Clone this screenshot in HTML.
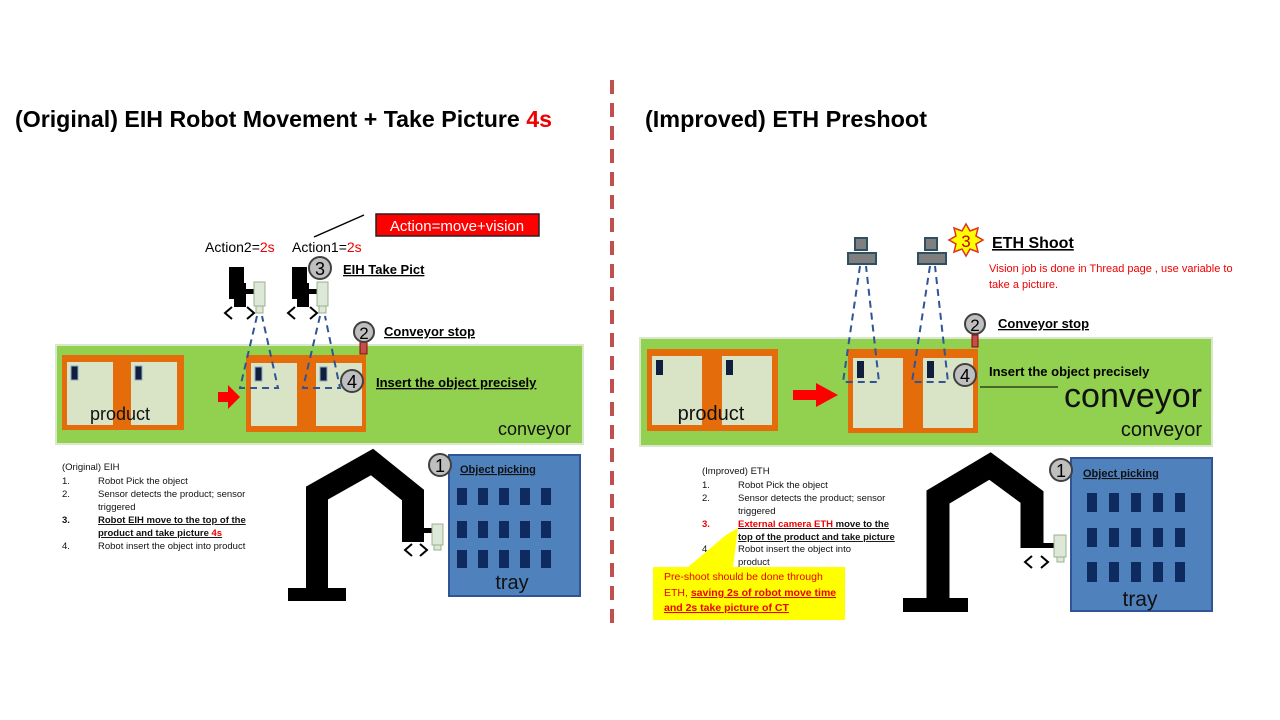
<!DOCTYPE html>
<html><head><meta charset="utf-8"><style>
html,body{margin:0;padding:0;background:#fff}
svg{display:block;font-family:"Liberation Sans",sans-serif}
</style></head><body>
<svg width="1280" height="720" viewBox="0 0 1280 720" xmlns="http://www.w3.org/2000/svg">
<defs>
<g id="cell">
 <rect width="46" height="63" fill="#d9e4c6"/>
 <rect x="4" y="4" width="7" height="14" fill="#0f1f3d" stroke="#8ea9c8" stroke-width="1"/>
</g>
<g id="grip">
 <rect x="0" y="0" width="15" height="32" fill="#000"/>
 <rect x="5" y="16" width="12" height="24" fill="#000"/>
 <rect x="16" y="22" width="9" height="5" fill="#000"/>
 <rect x="25" y="15" width="11" height="24" fill="#dde8d8" stroke="#9bb08e"/>
 <rect x="27" y="39" width="7" height="7" fill="#dde8d8" stroke="#9bb08e"/>
 <polyline points="3,40 -4,46 3,52" fill="none" stroke="#000" stroke-width="2"/>
 <polyline points="18,40 25,46 18,52" fill="none" stroke="#000" stroke-width="2"/>
</g>
<g id="cam">
 <rect x="7" y="0" width="12" height="12" fill="#7f7f7f" stroke="#2f5060" stroke-width="2"/>
 <rect x="0" y="15" width="28" height="11" fill="#7f7f7f" stroke="#2f5060" stroke-width="2"/>
</g>
</defs>

<line x1="612" y1="80" x2="612" y2="632" stroke="#c0504d" stroke-width="4" stroke-dasharray="14,9"/>

<text x="15" y="127" font-size="23" font-weight="bold" textLength="537" lengthAdjust="spacingAndGlyphs">(Original) EIH Robot Movement + Take Picture <tspan fill="#e00">4s</tspan></text>
<text x="645" y="127" font-size="23" font-weight="bold" textLength="282" lengthAdjust="spacingAndGlyphs">(Improved) ETH Preshoot</text>

<!-- ===== LEFT ===== -->
<rect x="56" y="345" width="527" height="99" fill="#92d050" stroke="#d9e7cc" stroke-width="2"/>
<rect x="62" y="355" width="122" height="75" fill="#e46c0a"/>
<use href="#cell" x="67" y="362"/><use href="#cell" x="131" y="362"/>
<text x="120" y="420" font-size="18" text-anchor="middle" fill="#111">product</text>
<rect x="246" y="355" width="120" height="77" fill="#e46c0a"/>
<use href="#cell" x="251" y="363"/><use href="#cell" x="316" y="363"/>
<polygon points="218,392 228,392 228,385 240,397 228,409 228,402 218,402" fill="#f00"/>
<text x="571" y="435" font-size="18" text-anchor="end" fill="#111">conveyor</text>

<rect x="360" y="341" width="7" height="13" fill="#c0504d" stroke="#900"/>
<circle cx="364" cy="332" r="10" fill="#bfbfbf" stroke="#404040" stroke-width="2"/>
<text x="364" y="339" font-size="17" text-anchor="middle">2</text>
<text x="384" y="336" font-size="13" font-weight="bold" text-decoration="underline">Conveyor stop</text>

<g fill="none" stroke="#2f5597" stroke-width="2" stroke-dasharray="7,5">
<polyline points="257,316 240,388 278,388 262,316"/>
<polyline points="320,316 303,388 340,388 325,316"/>
</g>
<use href="#grip" x="229" y="267"/>
<use href="#grip" x="292" y="267"/>

<circle cx="352" cy="381" r="11" fill="#bfbfbf" stroke="#404040" stroke-width="2"/>
<text x="352" y="388" font-size="18" text-anchor="middle">4</text>
<text x="376" y="387" font-size="13" font-weight="bold" text-decoration="underline">Insert the object precisely</text>

<circle cx="320" cy="268" r="11" fill="#bfbfbf" stroke="#404040" stroke-width="2"/>
<text x="320" y="275" font-size="18" text-anchor="middle">3</text>
<text x="343" y="274" font-size="13" font-weight="bold" text-decoration="underline">EIH Take Pict</text>

<text x="205" y="252" font-size="14">Action2=<tspan fill="#e00">2s</tspan></text>
<text x="292" y="252" font-size="14">Action1=<tspan fill="#e00">2s</tspan></text>
<line x1="314" y1="237" x2="364" y2="215" stroke="#000" stroke-width="1.5"/>
<rect x="376" y="214" width="163" height="22" fill="#f00" stroke="#222" stroke-width="1.5"/>
<text x="457" y="231" font-size="15" fill="#fff" text-anchor="middle">Action=move+vision</text>

<rect x="288" y="588" width="58" height="13" fill="#000"/>
<polyline points="317,592 317,493 372,462 413,495 413,542" fill="none" stroke="#000" stroke-width="22" stroke-linejoin="miter"/>
<rect x="413" y="528" width="20" height="5" fill="#000"/>
<rect x="432" y="524" width="11" height="21" fill="#dde8d8" stroke="#9bb08e"/>
<rect x="434" y="545" width="7" height="5" fill="#dde8d8" stroke="#9bb08e"/>
<polyline points="412,544 405,550 412,556" fill="none" stroke="#000" stroke-width="2"/>
<polyline points="420,544 427,550 420,556" fill="none" stroke="#000" stroke-width="2"/>

<rect x="449" y="455" width="131" height="141" fill="#4f81bd" stroke="#2f5597" stroke-width="2"/>
<g fill="#0f2a5e">
<rect x="457" y="488" width="10" height="17"/><rect x="478" y="488" width="10" height="17"/><rect x="499" y="488" width="10" height="17"/><rect x="520" y="488" width="10" height="17"/><rect x="541" y="488" width="10" height="17"/>
<rect x="457" y="521" width="10" height="17"/><rect x="478" y="521" width="10" height="17"/><rect x="499" y="521" width="10" height="17"/><rect x="520" y="521" width="10" height="17"/><rect x="541" y="521" width="10" height="17"/>
<rect x="457" y="550" width="10" height="18"/><rect x="478" y="550" width="10" height="18"/><rect x="499" y="550" width="10" height="18"/><rect x="520" y="550" width="10" height="18"/><rect x="541" y="550" width="10" height="18"/>
</g>
<text x="512" y="589" font-size="20" text-anchor="middle" fill="#111">tray</text>
<circle cx="440" cy="465" r="11" fill="#bfbfbf" stroke="#404040" stroke-width="2"/>
<text x="440" y="472" font-size="18" text-anchor="middle">1</text>
<text x="460" y="473" font-size="11" font-weight="bold" text-decoration="underline" fill="#111">Object picking</text>

<g font-size="9.5" fill="#111">
<text x="62" y="470">(Original) EIH</text>
<text x="62" y="484">1.</text><text x="98" y="484">Robot Pick the object</text>
<text x="62" y="497">2.</text><text x="98" y="497">Sensor detects the product; sensor</text>
<text x="98" y="510">triggered</text>
<text x="62" y="523" font-weight="bold">3.</text><text x="98" y="523" font-weight="bold" text-decoration="underline">Robot EIH move to the top of the</text>
<text x="98" y="536" font-weight="bold" text-decoration="underline">product and take picture <tspan fill="#e00">4s</tspan></text>
<text x="62" y="549">4.</text><text x="98" y="549">Robot insert the object into product</text>
</g>

<!-- ===== RIGHT ===== -->
<rect x="640" y="338" width="572" height="108" fill="#92d050" stroke="#d9e7cc" stroke-width="2"/>
<rect x="647" y="349" width="131" height="82" fill="#e46c0a"/>
<rect x="652" y="356" width="50" height="69" fill="#d9e4c6"/><rect x="656" y="360" width="7" height="15" fill="#0f1f3d"/>
<rect x="722" y="356" width="50" height="69" fill="#d9e4c6"/><rect x="726" y="360" width="7" height="15" fill="#0f1f3d"/>
<text x="711" y="420" font-size="20" text-anchor="middle" fill="#111">product</text>
<rect x="848" y="349" width="130" height="84" fill="#e46c0a"/>
<rect x="853" y="358" width="50" height="70" fill="#d9e4c6"/><rect x="857" y="361" width="7" height="17" fill="#0f1f3d"/>
<rect x="923" y="358" width="50" height="70" fill="#d9e4c6"/><rect x="927" y="361" width="7" height="17" fill="#0f1f3d"/>
<polygon points="793,390 816,390 816,383 838,395 816,407 816,400 793,400" fill="#f00"/>

<g fill="none" stroke="#2f5597" stroke-width="2" stroke-dasharray="7,5">
<polyline points="860,266 843,382 879,382 866,266"/>
<polyline points="930,266 912,382 948,382 935,266"/>
</g>
<use href="#cam" x="848" y="238"/>
<use href="#cam" x="918" y="238"/>

<rect x="972" y="335" width="6" height="12" fill="#c0504d" stroke="#900"/>
<circle cx="975" cy="324" r="10" fill="#bfbfbf" stroke="#404040" stroke-width="2"/>
<text x="975" y="331" font-size="17" text-anchor="middle">2</text>
<text x="998" y="328" font-size="13" font-weight="bold" text-decoration="underline">Conveyor stop</text>

<circle cx="965" cy="375" r="11" fill="#bfbfbf" stroke="#404040" stroke-width="2"/>
<text x="965" y="382" font-size="18" text-anchor="middle">4</text>
<text x="989" y="376" font-size="13" font-weight="bold">Insert the object precisely</text>
<line x1="980" y1="387" x2="1058" y2="387" stroke="#000" stroke-width="1"/>
<text x="1202" y="407" font-size="34" text-anchor="end" fill="#111">conveyor</text>
<text x="1202" y="436" font-size="20" text-anchor="end" fill="#111">conveyor</text>

<polygon points="966,224 970,231 978,228 976,236 983,240 976,244 978,252 970,249 966,256 962,249 954,252 956,244 949,240 956,236 954,228 962,231" fill="#ffff00" stroke="#e0301e" stroke-width="1.5"/>
<text x="966" y="247" font-size="17" text-anchor="middle" fill="#c00000">3</text>
<text x="992" y="248" font-size="16" font-weight="bold" text-decoration="underline">ETH Shoot</text>
<text x="989" y="272" font-size="11" fill="#e00">Vision job is done in Thread page , use variable to</text>
<text x="989" y="288" font-size="11" fill="#e00">take a picture.</text>

<rect x="903" y="598" width="65" height="14" fill="#000"/>
<polyline points="938,602 938,497 990,466 1032,497 1032,548" fill="none" stroke="#000" stroke-width="23" stroke-linejoin="miter"/>
<rect x="1032" y="543" width="22" height="5" fill="#000"/>
<rect x="1054" y="535" width="12" height="22" fill="#dde8d8" stroke="#9bb08e"/>
<rect x="1057" y="557" width="7" height="5" fill="#dde8d8" stroke="#9bb08e"/>
<polyline points="1032,556 1025,562 1032,568" fill="none" stroke="#000" stroke-width="2"/>
<polyline points="1041,556 1048,562 1041,568" fill="none" stroke="#000" stroke-width="2"/>

<rect x="1071" y="458" width="141" height="153" fill="#4f81bd" stroke="#2f5597" stroke-width="2"/>
<g fill="#0f2a5e">
<rect x="1087" y="493" width="10" height="19"/><rect x="1109" y="493" width="10" height="19"/><rect x="1131" y="493" width="10" height="19"/><rect x="1153" y="493" width="10" height="19"/><rect x="1175" y="493" width="10" height="19"/>
<rect x="1087" y="528" width="10" height="19"/><rect x="1109" y="528" width="10" height="19"/><rect x="1131" y="528" width="10" height="19"/><rect x="1153" y="528" width="10" height="19"/><rect x="1175" y="528" width="10" height="19"/>
<rect x="1087" y="562" width="10" height="20"/><rect x="1109" y="562" width="10" height="20"/><rect x="1131" y="562" width="10" height="20"/><rect x="1153" y="562" width="10" height="20"/><rect x="1175" y="562" width="10" height="20"/>
</g>
<text x="1140" y="606" font-size="21" text-anchor="middle" fill="#111">tray</text>
<circle cx="1061" cy="470" r="11" fill="#bfbfbf" stroke="#404040" stroke-width="2"/>
<text x="1061" y="477" font-size="18" text-anchor="middle">1</text>
<text x="1083" y="477" font-size="11" font-weight="bold" text-decoration="underline" fill="#111">Object picking</text>

<g font-size="9.5" fill="#111">
<text x="702" y="474">(Improved) ETH</text>
<text x="702" y="488">1.</text><text x="738" y="488">Robot Pick the object</text>
<text x="702" y="501">2.</text><text x="738" y="501">Sensor detects the product; sensor</text>
<text x="738" y="514">triggered</text>
<text x="702" y="527" font-weight="bold" fill="#e00">3.</text><text x="738" y="527" font-weight="bold" text-decoration="underline"><tspan fill="#e00">External camera ETH</tspan> move to the</text>
<text x="738" y="540" font-weight="bold" text-decoration="underline">top of the product and take picture</text>
<text x="702" y="552">4</text><text x="738" y="552">Robot insert the object into</text>
<text x="738" y="565">product</text>
</g>

<polygon points="653,567 688,567 726,535 738,528 733,567 845,567 845,620 653,620" fill="#ffff00"/>
<g font-size="10.5" fill="#e00">
<text x="664" y="580">Pre-shoot should be done through</text>
<text x="664" y="596">ETH, <tspan font-weight="bold" text-decoration="underline">saving 2s of robot move time</tspan></text>
<text x="664" y="611" font-weight="bold" text-decoration="underline">and 2s take picture of CT</text>
</g>
</svg>
</body></html>
